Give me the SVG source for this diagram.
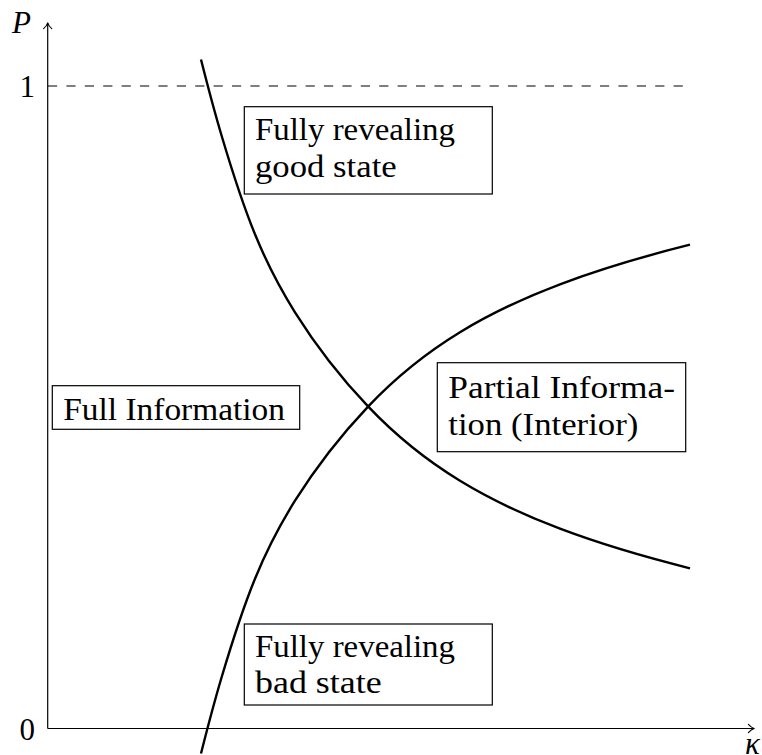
<svg xmlns="http://www.w3.org/2000/svg" width="762" height="755" viewBox="0 0 762 755">
<rect width="762" height="755" fill="#fff"/>
<g id="axes" fill="none" stroke="#000" stroke-width="1.2">
  <line x1="47.7" y1="728.5" x2="47.7" y2="23"/>
  <path d="M43.6,28.6 Q46.8,25.8 47.7,22.8 Q48.6,25.8 51.8,28.6" stroke-width="1.1" stroke-linecap="round" stroke-linejoin="round"/>
  <line x1="47.7" y1="728.5" x2="754" y2="728.5"/>
  <path d="M748.4,724.4 Q751.2,727.6 754.2,728.5 Q751.2,729.4 748.4,732.6" stroke-width="1.1" stroke-linecap="round" stroke-linejoin="round"/>
  <line x1="48" y1="86" x2="690" y2="86" stroke-dasharray="9.2 9.2"/>
</g>
<g id="axis-labels" font-family="Liberation Serif" font-size="31" fill="#000">
  <text font-style="italic" x="12" y="32.5">P</text>
  <text x="35" y="96.5" text-anchor="end">1</text>
  <text x="35" y="740" text-anchor="end">0</text>
  <text font-style="italic" x="745" y="754">κ</text>
</g>
<g id="connectors" fill="none" stroke="#000" stroke-width="2.4">
  <path id="decreasing" d="M201,59.5 C207.9,86.76 214.8,112.8 221.7,136 C232.8,173.3 243.9,207.2 255,234.3 C268.33,266.9 281.67,291 295,312.3 C319.43,351.27 343.87,380.93 368.3,406.7 C398.87,438.95 429.43,462.15 460,480.8 C493.33,501.13 526.67,516.1 560,528.7 C603.33,545.08 646.67,557.47 690,568.3"/>
  <path id="increasing" transform="matrix(1,0,0,-1,0,813)" d="M201,59.5 C207.9,86.76 214.8,112.8 221.7,136 C232.8,173.3 243.9,207.2 255,234.3 C268.33,266.9 281.67,291 295,312.3 C319.43,351.27 343.87,380.93 368.3,406.7 C398.87,438.95 429.43,462.15 460,480.8 C493.33,501.13 526.67,516.1 560,528.7 C603.33,545.08 646.67,557.47 690,568.3"/>
</g>
<g id="good-state" font-family="Liberation Serif" font-size="31">
  <rect x="244.3" y="106.7" width="248" height="87.3" fill="#fff" stroke="#000" stroke-width="1.2"/>
  <text x="255" y="140" textLength="200" lengthAdjust="spacingAndGlyphs">Fully revealing</text>
  <text x="255" y="177.3" textLength="141.7" lengthAdjust="spacingAndGlyphs">good state</text>
</g>
<g id="full-information" font-family="Liberation Serif" font-size="31">
  <rect x="52.3" y="385.7" width="247.4" height="43.6" fill="#fff" stroke="#000" stroke-width="1.2"/>
  <text x="63.3" y="420" textLength="221.7" lengthAdjust="spacingAndGlyphs">Full Information</text>
</g>
<g id="partial-information" font-family="Liberation Serif" font-size="31">
  <rect x="437.3" y="362.7" width="248.4" height="89" fill="#fff" stroke="#000" stroke-width="1.2"/>
  <text x="448.3" y="398.3" textLength="226.7" lengthAdjust="spacingAndGlyphs">Partial Informa-</text>
  <text x="448.3" y="435" textLength="190" lengthAdjust="spacingAndGlyphs">tion (Interior)</text>
</g>
<g id="bad-state" font-family="Liberation Serif" font-size="31">
  <rect x="244.3" y="624" width="248" height="81" fill="#fff" stroke="#000" stroke-width="1.2"/>
  <text x="255" y="656.7" textLength="200" lengthAdjust="spacingAndGlyphs">Fully revealing</text>
  <text x="255" y="693.3" textLength="126.7" lengthAdjust="spacingAndGlyphs">bad state</text>
</g>
</svg>
